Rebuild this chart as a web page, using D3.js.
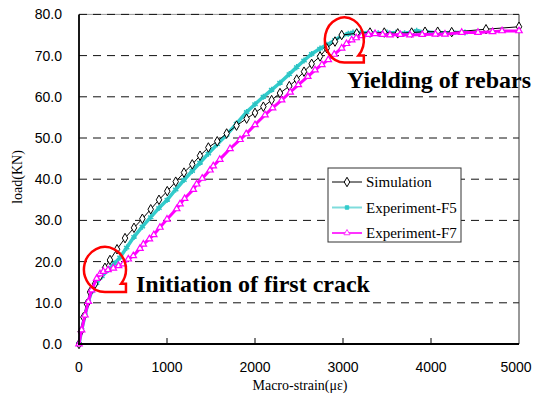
<!DOCTYPE html>
<html>
<head>
<meta charset="utf-8">
<script src="https://cdn.jsdelivr.net/npm/d3@7"></script>
<style>
  body { margin: 0; background: #fff; }
  svg { display: block; }
</style>
</head>
<body>
<div id="chart"></div>
<script>
// values
const xTicks = [0, 1000, 2000, 3000, 4000, 5000];
const yTicks = [0, 10, 20, 30, 40, 50, 60, 70, 80];

const simStrain = [0, 20, 50, 90, 125, 182, 239, 295, 352, 432, 523, 625, 720, 815, 909, 1003, 1099, 1193, 1287, 1375, 1470, 1571, 1678, 1790, 1905, 2000, 2095, 2189, 2284, 2390, 2474, 2557, 2644, 2739, 2815, 2909, 2985, 3156, 3307, 3469, 3622, 3780, 3932, 4076, 4235, 4625, 5000];
const simLoad = [0, 3.0, 6.5, 9.7, 12.6, 14.6, 16.5, 18.5, 20.4, 23.0, 25.7, 28.2, 30.4, 32.7, 35.0, 37.1, 39.4, 41.6, 43.6, 45.7, 47.7, 49.2, 51.1, 53.0, 54.7, 56.1, 57.6, 59.2, 60.9, 62.6, 64.2, 66.1, 68.0, 69.8, 71.8, 73.4, 75.0, 75.4, 75.6, 75.6, 75.4, 75.6, 75.8, 75.8, 75.7, 76.4, 77.0];

const f5Strain = [0, 30, 68, 106, 144, 200, 260, 330, 400, 466, 542, 625, 720, 815, 909, 1003, 1099, 1193, 1287, 1375, 1470, 1571, 1678, 1790, 1905, 2000, 2095, 2189, 2284, 2390, 2474, 2557, 2644, 2739, 2815, 2909, 2985, 3060, 3114, 3200, 3300, 3400, 3500, 3600, 3700, 3837, 3950, 4100, 4250, 4386];
const f5Load = [0, 3.4, 7.0, 10.3, 12.8, 14.8, 16.4, 18.0, 19.5, 21.0, 23.4, 26.0, 28.5, 30.8, 33.0, 35.0, 37.5, 39.8, 42.0, 44.0, 46.2, 48.5, 50.8, 53.5, 56.3, 58.2, 60.0, 61.7, 63.4, 65.5, 67.2, 68.8, 70.4, 71.7, 72.6, 73.8, 74.8, 75.3, 75.6, 75.5, 75.6, 75.4, 75.6, 75.5, 75.4, 76.0, 75.7, 75.5, 75.6, 75.6];

const f7Strain = [0, 30, 68, 106, 144, 201, 239, 277, 330, 390, 450, 503, 560, 617, 693, 731, 800, 850, 920, 1000, 1110, 1148, 1200, 1299, 1337, 1400, 1489, 1526, 1600, 1716, 1830, 1900, 2000, 2114, 2200, 2303, 2400, 2492, 2600, 2682, 2760, 2833, 2900, 2985, 3040, 3099, 3150, 3212, 3290, 3364, 3450, 3534, 3650, 3761, 3900, 4050, 4159, 4349, 4534, 4700, 4807, 5000];
const f7Load = [0, 3.4, 7.0, 10.3, 13.1, 15.9, 17.0, 17.6, 18.0, 18.4, 19.0, 19.4, 20.6, 21.4, 23.2, 24.2, 25.5, 26.5, 28.3, 30.3, 32.8, 34.0, 35.3, 37.5, 38.8, 40.2, 42.2, 43.2, 44.8, 47.4, 49.6, 51.0, 53.2, 55.6, 57.3, 59.2, 61.1, 62.9, 64.9, 66.5, 67.8, 69.0, 70.3, 71.8, 72.9, 73.8, 74.3, 74.8, 75.1, 75.3, 75.1, 75.0, 75.1, 75.0, 75.1, 75.2, 75.2, 75.6, 75.6, 75.8, 76.0, 76.0];

const seriesNames = ['Simulation', 'Experiment-F5', 'Experiment-F7'];

const width = 535;
const height = 398;
const serif = '"Liberation Serif", "Times New Roman", serif';
const sans = '"Liberation Sans", Arial, sans-serif';

const x = d3.scaleLinear().domain([0, 5000]).range([79, 519]);
const y = d3.scaleLinear().domain([0, 80]).range([344, 14.4]);

const svg = d3
  .select('#chart')
  .append('svg')
  .attr('width', width)
  .attr('height', height);

svg.append('rect').attr('width', width).attr('height', height).attr('fill', '#fff');

// dashed grid (top one sits on a light frame line)
svg
  .append('line')
  .attr('x1', x(0)).attr('x2', x(5000))
  .attr('y1', y(80)).attr('y2', y(80))
  .attr('stroke', '#999');
svg
  .append('g')
  .selectAll('line')
  .data(yTicks.filter(d => d > 0))
  .join('line')
  .attr('x1', x(0))
  .attr('x2', x(5000))
  .attr('y1', d => y(d))
  .attr('y2', d => y(d))
  .attr('stroke', '#111')
  .attr('stroke-dasharray', '8,6');

// right frame
svg
  .append('line')
  .attr('x1', x(5000)).attr('x2', x(5000))
  .attr('y1', y(80)).attr('y2', y(0))
  .attr('stroke', '#333');

const line = d3.line().x(d => x(d[0])).y(d => y(d[1]));
const zip = (a, b) => a.map((v, i) => [v, b[i]]);

const f5 = zip(f5Strain, f5Load);
const sim = zip(simStrain, simLoad);
const f7 = zip(f7Strain, f7Load);

// Experiment-F5 (noisy test data -> thick band)
svg.append('path').datum(f5).attr('d', line)
  .attr('fill', 'none').attr('stroke', '#33cccc').attr('stroke-width', 3.5);
svg.append('g').selectAll('path').data(f5).join('path')
  .attr('transform', d => `translate(${x(d[0])},${y(d[1])})`)
  .attr('d', d3.symbol(d3.symbolAsterisk, 26))
  .attr('fill', 'none').attr('stroke', '#2cc4c4').attr('stroke-width', 1.5);

// Simulation
svg.append('path').datum(sim).attr('d', line)
  .attr('fill', 'none').attr('stroke', '#000').attr('stroke-width', 1);
svg.append('g').selectAll('path').data(sim).join('path')
  .attr('transform', d => `translate(${x(d[0])},${y(d[1])})`)
  .attr('d', d3.symbol(d3.symbolDiamond, 26))
  .attr('fill', '#fff').attr('stroke', '#000').attr('stroke-width', 1);

// Experiment-F7
svg.append('path').datum(f7).attr('d', line)
  .attr('fill', 'none').attr('stroke', '#ff00ff').attr('stroke-width', 3);
svg.append('g').selectAll('path').data(f7).join('path')
  .attr('transform', d => `translate(${x(d[0])},${y(d[1])})`)
  .attr('d', d3.symbol(d3.symbolTriangle, 18))
  .attr('fill', '#fff').attr('stroke', '#ff00ff').attr('stroke-width', 1.2);

// axes
svg.append('line')
  .attr('x1', x(0)).attr('x2', x(0)).attr('y1', y(80)).attr('y2', y(0))
  .attr('stroke', '#000').attr('stroke-width', 1.8);
svg.append('line')
  .attr('x1', x(0) - 1).attr('x2', x(5000)).attr('y1', y(0)).attr('y2', y(0))
  .attr('stroke', '#000').attr('stroke-width', 2);

svg.append('g').selectAll('line').data(xTicks.slice(1, -1)).join('line')
  .attr('x1', d => x(d)).attr('x2', d => x(d))
  .attr('y1', y(0)).attr('y2', y(0) - 6)
  .attr('stroke', '#000');

svg.append('g').selectAll('text').data(xTicks).join('text')
  .attr('x', d => x(d) - (d === 5000 ? 3 : 0))
  .attr('y', 372)
  .attr('text-anchor', 'middle')
  .attr('font-family', sans)
  .attr('font-size', 14)
  .text(d => d);

svg.append('g').selectAll('text').data(yTicks).join('text')
  .attr('x', 62)
  .attr('y', d => y(d))
  .attr('dy', '0.36em')
  .attr('text-anchor', 'end')
  .attr('font-family', sans)
  .attr('font-size', 14)
  .text(d => d.toFixed(1));

svg.append('text')
  .attr('x', 300).attr('y', 390)
  .attr('text-anchor', 'middle')
  .attr('font-family', serif).attr('font-size', 14)
  .text('Macro-strain(με)');

svg.append('text')
  .attr('transform', 'translate(22,177) rotate(-90)')
  .attr('text-anchor', 'middle')
  .attr('font-family', serif).attr('font-size', 14)
  .text('load(KN)');

// red callouts: ellipse whose lower-right quarter is squared off into a tab
function callout(cx, cy, rx, ry, top) {
  const p1 = [cx + rx * Math.sqrt(1 - top * top), cy + ry * top];
  return `M${cx},${cy + ry} A${rx},${ry} 0 1 1 ${p1} ` +
    `L${cx + rx},${cy + top * ry} L${cx + rx},${cy + ry} Z`;
}
svg.append('path')
  .attr('d', callout(x(3015), y(73.8), 19.5, 22.5, 0.69))
  .attr('fill', 'none').attr('stroke', '#ff0000').attr('stroke-width', 2.5);
svg.append('path')
  .attr('d', callout(x(295), y(18.1), 21, 22.5, 0.64))
  .attr('fill', 'none').attr('stroke', '#ff0000').attr('stroke-width', 2.5);

svg.append('text')
  .attr('x', 347).attr('y', 88)
  .attr('font-family', serif).attr('font-size', 24).attr('font-weight', 'bold')
  .text('Yielding of rebars');
svg.append('text')
  .attr('x', 136).attr('y', 292)
  .attr('font-family', serif).attr('font-size', 24).attr('font-weight', 'bold')
  .text('Initiation of first crack');

// legend
const legend = svg.append('g');
legend.append('rect')
  .attr('x', 328).attr('y', 168).attr('width', 133).attr('height', 74)
  .attr('fill', '#fff').attr('stroke', '#333');
const legendStyle = [
  { color: '#000', sym: d3.symbolDiamond, size: 26, fill: '#fff' },
  { color: '#7fdcdc', sym: d3.symbolSquare, size: 12, fill: '#33cccc' },
  { color: '#ff33ff', sym: d3.symbolTriangle, size: 16, fill: '#fff' },
];
const legendY = [182, 207.5, 233];
seriesNames.forEach((name, i) => {
  const s = legendStyle[i];
  legend.append('line')
    .attr('x1', 332).attr('x2', 362).attr('y1', legendY[i]).attr('y2', legendY[i])
    .attr('stroke', s.color).attr('stroke-width', i === 0 ? 1 : 2);
  legend.append('path')
    .attr('transform', `translate(347,${legendY[i]})`)
    .attr('d', d3.symbol(s.sym, s.size))
    .attr('fill', s.fill)
    .attr('stroke', i === 1 ? '#33cccc' : s.color);
  legend.append('text')
    .attr('x', 366).attr('y', legendY[i]).attr('dy', '0.35em')
    .attr('font-family', serif).attr('font-size', 15)
    .text(name);
});
</script>
</body>
</html>
